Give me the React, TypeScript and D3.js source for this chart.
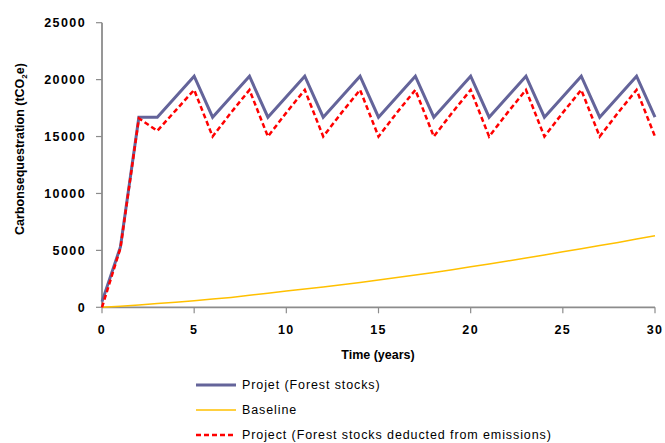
import React from "react";
import * as d3 from "d3";

const years: number[] = Array.from({ length: 31 }, (_, i) => i);
const projetForest: number[] = [
  500, 5300, 16700, 16700, 18500, 20300, 16700, 18500, 20300, 16700, 18500,
  20300, 16700, 18500, 20300, 16700, 18500, 20300, 16700, 18500, 20300, 16700,
  18500, 20300, 16700, 18500, 20300, 16700, 18500, 20300, 16700,
];
const baseline: number[] = [
  0, 100, 210, 330, 450, 580, 720, 870, 1050, 1240, 1430, 1610, 1790, 1980,
  2180, 2390, 2610, 2830, 3060, 3300, 3560, 3810, 4070, 4330, 4600, 4880, 5150,
  5430, 5700, 5990, 6280,
];
const projectDeducted: number[] = [
  0, 5200, 16600, 15500, 17300, 19100, 15000, 17100, 19100, 15000, 17100,
  19100, 15000, 17100, 19100, 15000, 17100, 19100, 15000, 17100, 19100, 15000,
  17100, 19100, 15000, 17100, 19100, 15000, 17100, 19100, 15000,
];
const xTicks: number[] = [0, 5, 10, 15, 20, 25, 30];
const yTicks: number[] = [0, 5000, 10000, 15000, 20000, 25000];
const legendLabels: string[] = [
  "Projet (Forest stocks)",
  "Baseline",
  "Project (Forest stocks deducted from emissions)",
];

const W = 665;
const H = 443;
const x = d3.scaleLinear().domain([0, 30]).range([102, 655]);
const y = d3.scaleLinear().domain([0, 25000]).range([307.3, 22.7]);

const BLUE = "#64649a";
const GOLD = "#FFC000";
const RED = "#FF0000";
const AXIS = "#8c8c8c";
const FONT = "Arial, 'Liberation Sans', sans-serif";

export default function App() {
  const line = d3
    .line<number>()
    .x((_, i) => x(years[i]))
    .y((d) => y(d));

  const legend = [
    { label: legendLabels[0], color: BLUE, width: 3, dash: undefined as string | undefined },
    { label: legendLabels[1], color: GOLD, width: 1.5, dash: undefined },
    { label: legendLabels[2], color: RED, width: 2.5, dash: "5,3" },
  ];

  return (
    <svg
      width={W}
      height={H}
      style={{ position: "absolute", left: 0, top: 0, background: "#fff" }}
      fontFamily={FONT}
    >
      {/* axes */}
      <line x1={x(0)} x2={x(30)} y1={y(0)} y2={y(0)} stroke={AXIS} strokeWidth={1.8} />
      <line x1={x(0)} x2={x(0)} y1={y(0)} y2={y(25000)} stroke={AXIS} strokeWidth={1.8} />
      {yTicks.map((t) => (
        <g key={"y" + t}>
          <line x1={x(0) - 6} x2={x(0)} y1={y(t)} y2={y(t)} stroke={AXIS} strokeWidth={1.2} />
          <text
            x={86}
            y={y(t)}
            dy="0.35em"
            textAnchor="end"
            fontSize={12.5}
            fontWeight="bold"
            letterSpacing={1.4}
          >
            {t}
          </text>
        </g>
      ))}
      {xTicks.map((t) => (
        <g key={"x" + t}>
          <line x1={x(t)} x2={x(t)} y1={y(0)} y2={y(0) + 6} stroke={AXIS} strokeWidth={1.2} />
          <text
            x={x(t)}
            y={334}
            textAnchor="middle"
            fontSize={12.5}
            fontWeight="bold"
            letterSpacing={1.4}
          >
            {t}
          </text>
        </g>
      ))}
      <text x={378} y={359} textAnchor="middle" fontSize={12.5} fontWeight="bold">
        Time (years)
      </text>
      <text
        transform="translate(24,149) rotate(-90)"
        textAnchor="middle"
        fontSize={12.5}
        fontWeight="bold"
      >
        <tspan>Carbon</tspan>
        <tspan>sequestration (tCO</tspan>
        <tspan fontSize={8} dy={3}>2</tspan>
        <tspan dy={-3}>e)</tspan>
      </text>

      {/* series */}
      <path d={line(baseline) || ""} fill="none" stroke={GOLD} strokeWidth={1.5} />
      <path
        d={line(projetForest) || ""}
        fill="none"
        stroke={BLUE}
        strokeWidth={3}
        strokeLinejoin="miter"
      />
      <path
        d={line(projectDeducted) || ""}
        fill="none"
        stroke={RED}
        strokeWidth={2.5}
        strokeDasharray="5,3"
      />

      {/* legend */}
      {legend.map((l, i) => {
        const ly = 385 + i * 25;
        return (
          <g key={l.label}>
            <line
              x1={196}
              x2={236}
              y1={ly}
              y2={ly}
              stroke={l.color}
              strokeWidth={l.width}
              strokeDasharray={l.dash}
            />
            <text x={242} y={ly} dy="0.35em" fontSize={12.5} letterSpacing={0.9}>
              {l.label}
            </text>
          </g>
        );
      })}
    </svg>
  );
}
